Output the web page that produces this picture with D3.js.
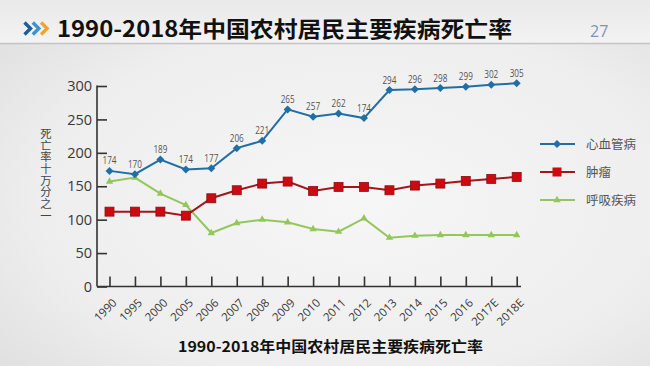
<!DOCTYPE html>
<html><head><meta charset="utf-8">
<script src="https://cdn.jsdelivr.net/npm/d3@7"></script>
<style>
html,body{margin:0;padding:0;}
body{width:650px;height:366px;overflow:hidden;}
</style></head>
<body>
<svg id="c" width="650" height="366"></svg>
<script>
const categories = ["1990","1995","2000","2005","2006","2007","2008","2009","2010","2011","2012","2013","2014","2015","2016","2017E","2018E"];
const heart = [173,168,190,175,177,207,218,265,254,259,252,294,295,297,299,302,304];
const heartLabels = ["174","170","189","174","177","206","221","265","257","262","174","294","296","298","299","302","305"];
const tumor = [112,112,112,106,132,144,154,157,143,149,149,144,151,154,158,161,164];
const resp = [157,163,139,122,80,95,100,96,86,82,102,73,76,77,77,77,77];
const seriesNames = ["心血管病","肿瘤","呼吸疾病"];
const yTicks = [0,50,100,150,200,250,300];
const title = "1990-2018年中国农村居民主要疾病死亡率";
const yLabel = "死亡率十万分之一";
const pageNo = "27";

const svg = d3.select("#c");
const font = "'Noto Sans CJK SC','Noto Sans',sans-serif";
const latin = "'Open Sans',sans-serif";

// background
const defs = svg.append("defs");
const rg = defs.append("radialGradient").attr("id","bg").attr("cx","55%").attr("cy","55%").attr("r","75%");
rg.append("stop").attr("offset","0%").attr("stop-color","#f6f6f6");
rg.append("stop").attr("offset","65%").attr("stop-color","#eeeeee");
rg.append("stop").attr("offset","100%").attr("stop-color","#dedede");
svg.append("rect").attr("width",650).attr("height",366).attr("fill","url(#bg)");
const hg = defs.append("linearGradient").attr("id","hd").attr("x1","0").attr("x2","0").attr("y1","0").attr("y2","1");
hg.append("stop").attr("offset","0%").attr("stop-color","#e9e9e9");
hg.append("stop").attr("offset","100%").attr("stop-color","#f3f3f3");
svg.append("rect").attr("width",650).attr("height",43).attr("fill","url(#hd)");
svg.append("line").attr("x1",0).attr("x2",650).attr("y1",43.5).attr("y2",43.5).attr("stroke","#c4c4c4").attr("stroke-width",1.5);

// chevrons
const chevColors = ["#1d5e98","#3d93d2","#f0a333"];
chevColors.forEach((c,i)=>{
  const x0 = 24.5 + i*8.3;
  svg.append("path").attr("d",`M${x0},22.5 L${x0+6},28.5 L${x0},34.5`).attr("fill","none").attr("stroke",c).attr("stroke-width",3.4);
});
svg.append("text").attr("x",57).attr("y",37).attr("font-family",font).attr("font-weight","bold").attr("font-size",22)
  .attr("textLength",455).attr("lengthAdjust","spacingAndGlyphs").attr("fill","#111").text(title);
svg.append("text").attr("x",590).attr("y",36.5).attr("font-family",latin).attr("font-size",16).attr("fill","#7d95b2").text(pageNo);

// scales
const x = d3.scalePoint().domain(categories).range([109.5, 516.7]);
const y = d3.scaleLinear().domain([0,300]).range([286.5, 86]);

const axisColor = "#333";
// y axis
const yAxis = svg.append("g").attr("transform","translate(97,0)")
  .call(d3.axisLeft(y).tickValues(yTicks).tickSize(-10).tickPadding(5));
yAxis.select(".domain").attr("stroke",axisColor).attr("stroke-width",1.6).attr("d","M0,85.5V286.5");
yAxis.selectAll(".tick line").attr("stroke",axisColor).attr("stroke-width",1.6);
yAxis.selectAll(".tick text").attr("font-family",latin).attr("font-size",14.5).attr("fill","#383838").attr("x",-5);

// x axis
const xAxis = svg.append("g").attr("transform","translate(0,286.5)")
  .call(d3.axisBottom(x).tickSize(-10));
xAxis.select(".domain").attr("stroke",axisColor).attr("stroke-width",1.6).attr("d","M97,0H521");
xAxis.selectAll(".tick line").attr("stroke",axisColor).attr("stroke-width",1.6);
xAxis.selectAll(".tick text").attr("font-family",latin).attr("font-size",11.5).attr("fill","#383838")
  .attr("text-anchor","end").attr("dy",0).attr("y",0).attr("x",0)
  .attr("transform","translate(7.5,17) rotate(-45)");

// y label (vertical writing)
svg.append("text").attr("x",46).attr("y",128).attr("font-family",font).attr("font-size",11.3).attr("fill","#444")
  .style("writing-mode","vertical-rl").style("text-orientation","upright").attr("letter-spacing",0.4).text(yLabel);

const line = d3.line().x((d,i)=>x(categories[i])).y(d=>y(d));
const colors = {heart:"#1f6fa6", tumorLine:"#a3161d", tumorFill:"#cc0a10", resp:"#93c75c"};
const dia = "M0,-4L4,0L0,4L-4,0Z";
const tri = d3.symbol().type(d3.symbolTriangle).size(24);

// respiratory
svg.append("path").datum(resp).attr("d",line).attr("fill","none").attr("stroke",colors.resp).attr("stroke-width",2);
svg.selectAll(".tri").data(resp).join("path").attr("d",tri)
  .attr("transform",(d,i)=>`translate(${x(categories[i])},${y(d)})`).attr("fill",colors.resp);

// tumor
svg.append("path").datum(tumor).attr("d",line).attr("fill","none").attr("stroke",colors.tumorLine).attr("stroke-width",2);
svg.selectAll(".sq").data(tumor).join("rect")
  .attr("x",(d,i)=>x(categories[i])-4.5).attr("y",d=>y(d)-4.5).attr("width",9).attr("height",9)
  .attr("fill",colors.tumorFill).attr("stroke","#8a0f14").attr("stroke-width",0.8);

// heart
svg.append("path").datum(heart).attr("d",line).attr("fill","none").attr("stroke",colors.heart).attr("stroke-width",2);
svg.selectAll(".dia").data(heart).join("path").attr("d",dia)
  .attr("transform",(d,i)=>`translate(${x(categories[i])},${y(d)})`).attr("fill",colors.heart);
svg.selectAll(".lbl").data(heart).join("text")
  .attr("x",(d,i)=>x(categories[i])).attr("y",d=>y(d)-6.5)
  .attr("text-anchor","middle").attr("font-family",latin).attr("font-size",10.5).attr("fill","#555")
  .attr("textLength",14).attr("lengthAdjust","spacingAndGlyphs")
  .text((d,i)=>heartLabels[i]);

// legend
const lg = svg.append("g");
const legY = [144,172,200];
const legColors = [colors.heart, colors.tumorLine, colors.resp];
legY.forEach((ly,i)=>{
  lg.append("line").attr("x1",540).attr("x2",575).attr("y1",ly).attr("y2",ly).attr("stroke",legColors[i]).attr("stroke-width",2);
  if(i===0) lg.append("path").attr("d",dia).attr("transform",`translate(557,${ly})`).attr("fill",colors.heart);
  if(i===1) lg.append("rect").attr("x",552.5).attr("y",ly-4.5).attr("width",9).attr("height",9).attr("fill",colors.tumorFill);
  if(i===2) lg.append("path").attr("d",tri).attr("transform",`translate(557,${ly})`).attr("fill",colors.resp);
  lg.append("text").attr("x",586).attr("y",ly+4.5).attr("font-family",font).attr("font-size",12.5).attr("fill","#555").text(seriesNames[i]);
});

// caption
svg.append("text").attr("x",178).attr("y",352).attr("font-family",font).attr("font-weight","bold").attr("font-size",14.5)
  .attr("textLength",305).attr("lengthAdjust","spacingAndGlyphs").attr("fill","#111").text(title);
</script>
</body></html>
